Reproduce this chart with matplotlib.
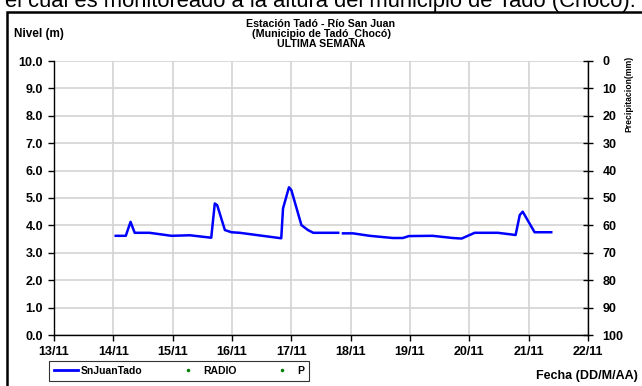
import matplotlib.pyplot as plt
from matplotlib.patches import Rectangle
from matplotlib.lines import Line2D

plt.rcParams['font.family'] = ['Liberation Sans', 'DejaVu Sans']

# dias contados desde el 13/11 a las 00:00
dias_1 = [1.04, 1.21, 1.29, 1.36, 1.61, 1.98, 2.29, 2.65, 2.71, 2.75, 2.88, 2.99,
          3.13, 3.83, 3.86, 3.96, 4.00, 4.17, 4.28, 4.37, 4.79]
nivel_1 = [3.62, 3.62, 4.13, 3.73, 3.73, 3.62, 3.64, 3.55, 4.80, 4.74, 3.83, 3.75,
           3.73, 3.53, 4.62, 5.39, 5.29, 4.01, 3.83, 3.73, 3.73]
dias_2 = [4.87, 5.04, 5.32, 5.71, 5.88, 5.98, 6.38, 6.72, 6.87, 7.09, 7.48, 7.78,
          7.85, 7.90, 8.10, 8.38]
nivel_2 = [3.71, 3.71, 3.62, 3.54, 3.54, 3.61, 3.62, 3.54, 3.52, 3.73, 3.73, 3.65,
           4.38, 4.50, 3.75, 3.75]
fechas = ['13/11', '14/11', '15/11', '16/11', '17/11', '18/11', '19/11', '20/11',
          '21/11', '22/11']
radio = []
precip = []

fig = plt.figure(figsize=(6.42, 3.86), dpi=100)
W, H = 642, 386
ax = fig.add_axes([54 / W, 1 - 335 / H, 534 / W, 274 / H])

ax.plot(dias_1, nivel_1, color='#0000FF', lw=1.8, solid_joinstyle='round')
ax.plot(dias_2, nivel_2, color='#0000FF', lw=1.8, solid_joinstyle='round')

ax.set_xlim(0, 9)
ax.set_ylim(0, 10)
ax.set_xticks(range(len(fechas)))
ax.set_xticklabels(fechas)
ax.set_yticks(range(0, 11))
ax.set_yticklabels(['%.1f' % v for v in range(0, 11)])
ax.grid(True, color='#d3d3d3', lw=1.2)
ax.set_axisbelow(True)
for s in ['top', 'right']:
    ax.spines[s].set_visible(False)
for s in ['left', 'bottom']:
    ax.spines[s].set_color('black')
    ax.spines[s].set_linewidth(1.0)
ax.tick_params(axis='both', direction='out', length=4, width=1, labelsize=9, pad=4)
for lab in ax.get_xticklabels() + ax.get_yticklabels():
    lab.set_fontweight('bold')

# eje de precipitacion invertido
ax2 = ax.twinx()
ax2.plot(dias_1[:0], radio, 'o', color='green', ms=2)
ax2.plot(dias_1[:0], precip, 'o', color='green', ms=2)
ax2.set_ylim(100, 0)
ax2.set_yticks(range(0, 101, 10))
ax2.tick_params(axis='y', direction='inout', length=7, width=1, labelsize=9, pad=7)
for lab in ax2.get_yticklabels():
    lab.set_fontweight('bold')
for s in ['top', 'left', 'bottom']:
    ax2.spines[s].set_visible(False)
ax2.spines['right'].set_linewidth(1.0)

fig.text(321 / W, 1 - 24 / H, 'Estación Tadó - Río San Juan', ha='center', va='center',
         fontsize=7.7, fontweight='bold')
fig.text(321 / W, 1 - 34 / H, '(Municipio de Tadó_Chocó)', ha='center', va='center',
         fontsize=7.7, fontweight='bold')
fig.text(321 / W, 1 - 44 / H, 'ULTIMA SEMANA', ha='center', va='center',
         fontsize=7.7, fontweight='bold')
fig.text(14 / W, 1 - 34 / H, 'Nivel (m)', ha='left', va='center',
         fontsize=8.5, fontweight='bold')
fig.text(629 / W, 1 - 94 / H, 'Precipitacion(mm)', ha='center', va='center',
         rotation=90, fontsize=6.2, fontweight='bold')
fig.text(638 / W, 1 - 376 / H, 'Fecha (DD/M/AA)', ha='right', va='center',
         fontsize=9, fontweight='bold')
fig.text(5 / W, 1 - 7 / H, 'el cual es monitoreado a la altura del municipio de Tadó (Chocó).',
         ha='left', va='baseline', fontsize=15.8)

# marco exterior
fig.patches.append(Rectangle((7 / W, -0.05), 1.0, 1 - 12 / H + 0.05,
                             transform=fig.transFigure, fill=False,
                             edgecolor='black', lw=1.8))

handles = [Line2D([], [], color='#0000FF', lw=2.0),
           Line2D([], [], ls='none', marker='o', color='green', ms=1.5),
           Line2D([], [], ls='none', marker='o', color='green', ms=1.5)]
leg = fig.legend(handles, ['SnJuanTado', 'RADIO', 'P'], ncol=3,
                 loc='center', bbox_to_anchor=(179 / W, 1 - 371 / H),
                 frameon=True, fancybox=False, handlelength=2.3,
                 columnspacing=3.2, handletextpad=0.3, borderpad=0.45,
                 prop={'weight': 'bold', 'size': 7.5})
leg.get_frame().set_edgecolor('black')
leg.get_frame().set_linewidth(0.8)

fig.savefig('out.png', dpi=100)
